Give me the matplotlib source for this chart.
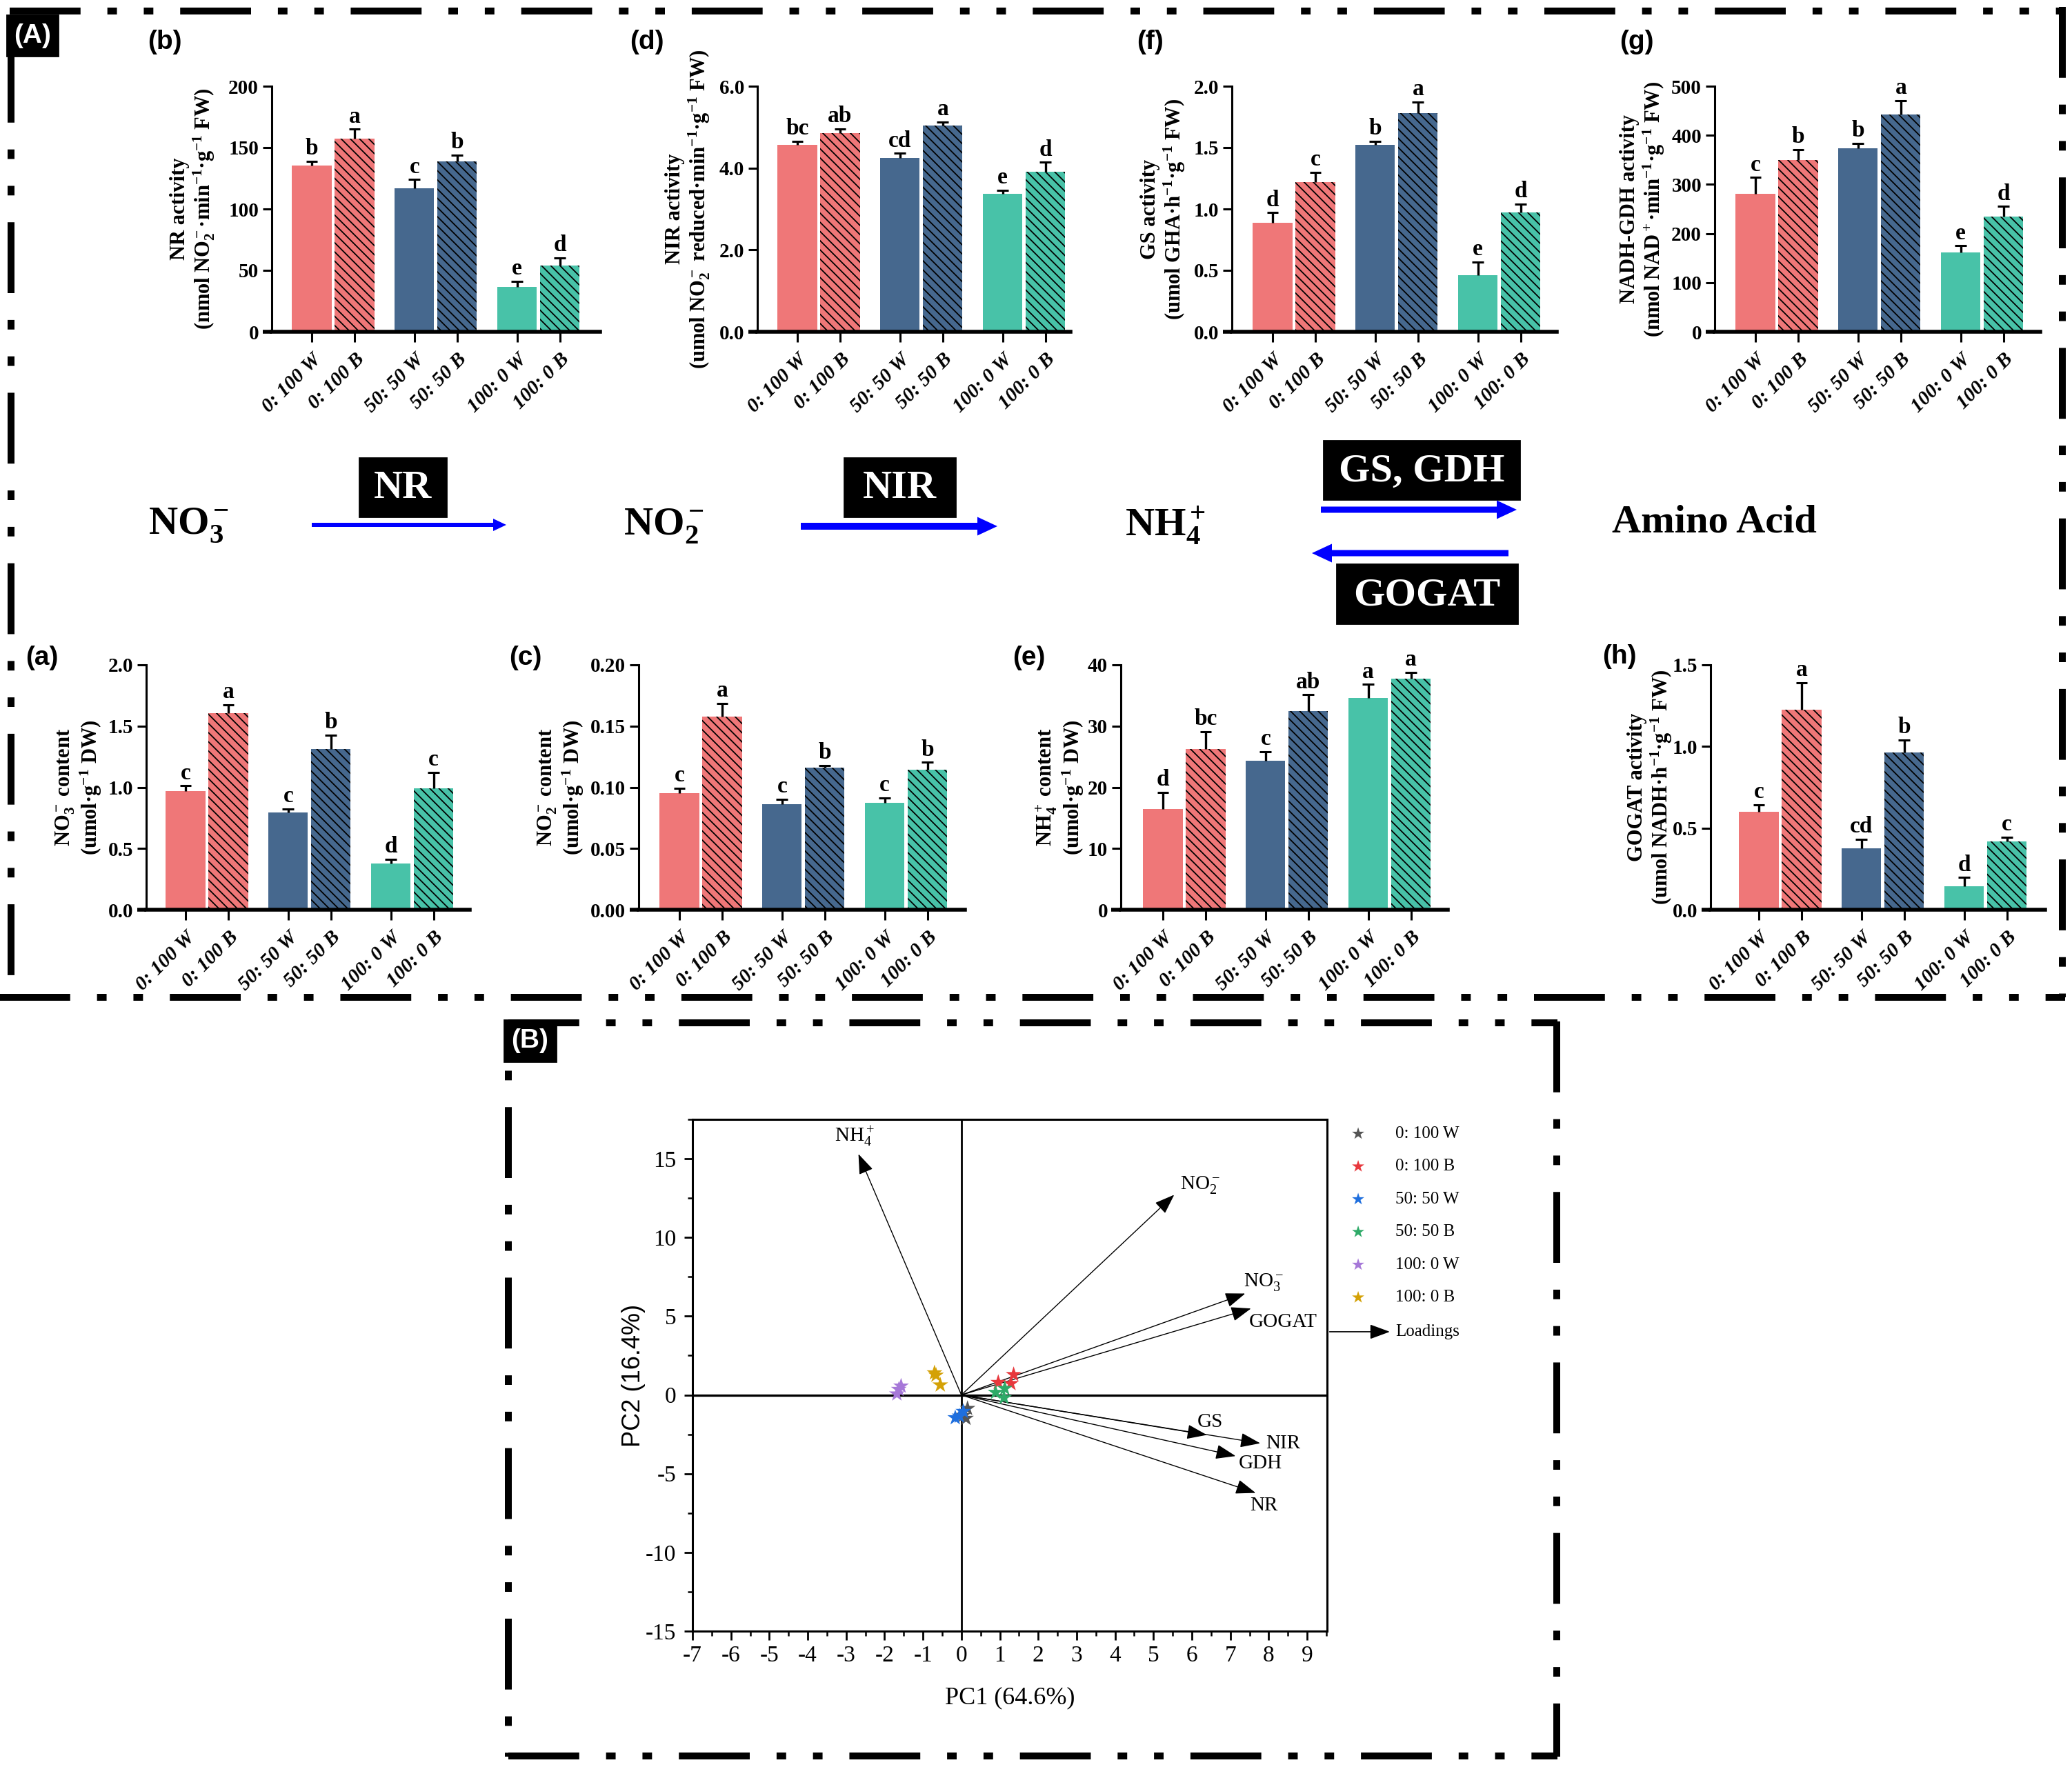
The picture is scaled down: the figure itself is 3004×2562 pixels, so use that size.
import numpy as np
import matplotlib
matplotlib.use('Agg')
import matplotlib.pyplot as plt
from matplotlib.patches import Rectangle, FancyArrow
from matplotlib.lines import Line2D

plt.rcParams['font.family'] = 'Liberation Serif'
plt.rcParams['mathtext.fontset'] = 'stix'
plt.rcParams['mathtext.default'] = 'regular'
plt.rcParams['axes.unicode_minus'] = False
plt.rcParams['lines.scale_dashes'] = False
plt.rcParams['hatch.linewidth'] = 0.65
plt.rcParams['hatch.color'] = 'black'

W, H, DPI = 3004, 2562, 200

# ---------------- data ----------------
groups = ['0: 100 W', '0: 100 B', '50: 50 W', '50: 50 B', '100: 0 W', '100: 0 B']
bar_colors = ['#EF7778', '#EF7778', '#46688E', '#46688E', '#48C2A8', '#48C2A8']
hatched = [False, True, False, True, False, True]

nr_mean = [135.5, 157.4, 117.0, 139.0, 36.5, 54.0]
nr_err = [3.3, 7.5, 7.0, 4.7, 4.7, 6.0]
nr_sig = ['b', 'a', 'c', 'b', 'e', 'd']
nr_ticks = [0, 50, 100, 150, 200]
nr_ticklabels = ['0', '50', '100', '150', '200']

nir_mean = [4.56, 4.86, 4.24, 5.04, 3.37, 3.91]
nir_err = [0.10, 0.10, 0.12, 0.08, 0.09, 0.23]
nir_sig = ['bc', 'ab', 'cd', 'a', 'e', 'd']
nir_ticks = [0, 2, 4, 6]
nir_ticklabels = ['0.0', '2.0', '4.0', '6.0']

gs_mean = [0.89, 1.22, 1.52, 1.78, 0.46, 0.97]
gs_err = [0.08, 0.08, 0.03, 0.09, 0.11, 0.07]
gs_sig = ['d', 'c', 'b', 'a', 'e', 'd']
gs_ticks = [0, 0.5, 1.0, 1.5, 2.0]
gs_ticklabels = ['0.0', '0.5', '1.0', '1.5', '2.0']

gdh_mean = [281, 350, 373, 442, 161, 234]
gdh_err = [33, 21, 11, 29, 14, 21]
gdh_sig = ['c', 'b', 'b', 'a', 'e', 'd']
gdh_ticks = [0, 100, 200, 300, 400, 500]
gdh_ticklabels = ['0', '100', '200', '300', '400', '500']

no3_mean = [0.967, 1.607, 0.797, 1.314, 0.379, 0.991]
no3_err = [0.045, 0.065, 0.026, 0.110, 0.035, 0.130]
no3_sig = ['c', 'a', 'c', 'b', 'd', 'c']
no3_ticks = [0, 0.5, 1.0, 1.5, 2.0]
no3_ticklabels = ['0.0', '0.5', '1.0', '1.5', '2.0']

no2_mean = [0.0953, 0.1576, 0.0862, 0.1158, 0.0874, 0.1144]
no2_err = [0.004, 0.011, 0.004, 0.002, 0.004, 0.006]
no2_sig = ['c', 'a', 'c', 'b', 'c', 'b']
no2_ticks = [0, 0.05, 0.10, 0.15, 0.20]
no2_ticklabels = ['0.00', '0.05', '0.10', '0.15', '0.20']

nh4_mean = [16.5, 26.3, 24.3, 32.5, 34.6, 37.7]
nh4_err = [2.7, 2.8, 1.5, 2.6, 2.2, 1.1]
nh4_sig = ['d', 'bc', 'c', 'ab', 'a', 'a']
nh4_ticks = [0, 10, 20, 30, 40]
nh4_ticklabels = ['0', '10', '20', '30', '40']

gogat_mean = [0.600, 1.224, 0.378, 0.962, 0.144, 0.418]
gogat_err = [0.042, 0.166, 0.053, 0.077, 0.053, 0.027]
gogat_sig = ['c', 'a', 'cd', 'b', 'd', 'c']
gogat_ticks = [0, 0.5, 1.0, 1.5]
gogat_ticklabels = ['0.0', '0.5', '1.0', '1.5']

# PCA
pca_colors = ['#555555', '#E8383D', '#1F6FDE', '#2EAA68', '#A678D8', '#D4A106']
pc1_scores = [[0.16, 0.12, 0.05], [0.96, 1.29, 1.36], [-0.16, -0.05, 0.05],
              [0.89, 1.13, 1.11], [-1.57, -1.63, -1.68], [-0.70, -0.66, -0.55]]
pc2_scores = [[-0.86, -1.49, -1.30], [0.79, 0.72, 1.29], [-1.45, -1.35, -1.05],
              [0.16, 0.41, -0.18], [0.56, 0.35, 0.06], [1.40, 1.25, 0.63]]
load_names = ['NH$_4^+$', 'NO$_2^-$', 'NO$_3^-$', 'GOGAT', 'GS', 'NIR', 'GDH', 'NR']
load_pc1 = [-2.68, 5.54, 7.39, 7.54, 6.39, 7.78, 7.14, 7.66]
load_pc2 = [15.3, 12.71, 6.44, 5.49, -2.54, -3.07, -3.88, -6.22]
# label offsets (points) and alignment
load_off = [(-2, 9, 'center'), (3, 5, 'left'), (-1, 6, 'left'), (-1, -7, 'left'),
            (-5, 6.5, 'left'), (3, 0, 'left'), (1.5, -4, 'left'), (-3, -6.5, 'left')]

fig = plt.figure(figsize=(W / DPI, H / DPI), dpi=DPI)

# overlay for borders and the pathway scheme (pixel coordinates)
over = fig.add_axes([0, 0, 1, 1])
over.set_xlim(0, W)
over.set_ylim(H, 0)
over.axis('off')


def px_rect(L, R, T, B):
    return [L / W, 1 - B / H, (R - L) / W, (B - T) / H]


pattern = (37, 14, 5, 14, 5, 14)


def dashed(x0, y0, x1, y1, offset=0):
    over.add_line(Line2D([x0, x1], [y0, y1], color='black', lw=3.6,
                         linestyle=(offset, pattern), dash_capstyle='butt'))


# box A
dashed(14, 16, 2994, 16)
dashed(15.5, 75, 15.5, 1446)
dashed(2990, 10, 2990, 1446)
dashed(-123, 1446, 2994, 1446)
# box B
dashed(737, 1483, 2258, 1483)
dashed(737, 1483, 737, 2547, offset=45)
dashed(2257, 1481, 2257, 2547)
dashed(737, 2546, 2258, 2546)

over.add_patch(Rectangle((10, 22), 74, 59, color='black'))
over.text(47, 52, '(A)', color='white', fontsize=14, fontweight='bold',
          family='Liberation Sans', ha='center', va='center')
over.add_patch(Rectangle((731, 1479), 75, 60, color='black'))
over.text(768, 1509, '(B)', color='white', fontsize=14, fontweight='bold',
          family='Liberation Sans', ha='center', va='center')

# pathway scheme
for s, x in [('NO$_3^-$', 273), ('NO$_2^-$', 962), ('NH$_4^+$', 1690)]:
    over.text(x, 762, s, fontsize=21, fontweight='bold', ha='center', va='center')
over.text(2485, 758, 'Amino Acid', fontsize=21, fontweight='bold', ha='center', va='center')

for (x0, x1, y0, y1, s) in [(521, 647, 664, 749, 'NR'), (1224, 1385, 664, 749, 'NIR'),
                            (1919, 2203, 639, 724, 'GS, GDH'), (1938, 2200, 818, 904, 'GOGAT')]:
    over.add_patch(Rectangle((x0, y0), x1 - x0, y1 - y0, color='black'))
    over.text((x0 + x1) / 2, (y0 + y1) / 2 + 2, s, color='white', fontsize=21,
              fontweight='bold', ha='center', va='center')

blue = '#0000FF'
for (xt, xh, y, w, hw, hl) in [(452, 734, 761, 6, 18, 19), (1161, 1446, 763, 10, 27, 29),
                               (1915, 2199, 739, 9, 27, 29), (2187, 1902, 802, 9, 27, 29)]:
    over.add_patch(FancyArrow(xt, y, xh - xt, 0, width=w, head_width=hw, head_length=hl,
                              length_includes_head=True, color=blue, lw=0))

# ---------------- bar panels ----------------
xpos = [0, 1, 2.4, 3.4, 4.8, 5.8]
unit = 62.0

panels = [
    ('(b)', nr_mean, nr_err, nr_sig, nr_ticks, nr_ticklabels,
     'NR activity\n(nmol NO$_2^-$·min$^{-1}$·g$^{-1}$ FW)', (394, 870, 125, 481), 452, 314, (239, 61)),
    ('(d)', nir_mean, nir_err, nir_sig, nir_ticks, nir_ticklabels,
     'NIR activity\n(umol NO$_2^-$ reduced·min$^{-1}$·g$^{-1}$ FW)', (1098, 1552, 125, 481), 1156, 1032, (938, 61)),
    ('(f)', gs_mean, gs_err, gs_sig, gs_ticks, gs_ticklabels,
     'GS activity\n(umol GHA·h$^{-1}$·g$^{-1}$ FW)', (1786, 2257, 125, 481), 1845, 1721, (1667, 61)),
    ('(g)', gdh_mean, gdh_err, gdh_sig, gdh_ticks, gdh_ticklabels,
     'NADH-GDH activity\n(nmol NAD$^+$·min$^{-1}$·g$^{-1}$ FW)', (2486, 2958, 125, 481), 2545, 2416, (2373, 61)),
    ('(a)', no3_mean, no3_err, no3_sig, no3_ticks, no3_ticklabels,
     'NO$_3^-$ content\n(umol·g$^{-1}$ DW)', (212, 681, 964, 1319), 269, 150, (61, 954)),
    ('(c)', no2_mean, no2_err, no2_sig, no2_ticks, no2_ticklabels,
     'NO$_2^-$ content\n(umol·g$^{-1}$ DW)', (926, 1399, 964, 1319), 985, 849, (762, 954)),
    ('(e)', nh4_mean, nh4_err, nh4_sig, nh4_ticks, nh4_ticklabels,
     'NH$_4^+$ content\n(umol·g$^{-1}$ DW)', (1625, 2099, 964, 1319), 1686, 1574, (1492, 954)),
    ('(h)', gogat_mean, gogat_err, gogat_sig, gogat_ticks, gogat_ticklabels,
     'GOGAT activity\n(umol NADH·h$^{-1}$·g$^{-1}$ FW)', (2480, 2965, 964, 1319), 2550, 2427, (2348, 952)),
]

for letter, mean, err, sig, ticks, ticklabels, ylabel, (L, R, T, B), c0, labpx, lxy in panels:
    ax = fig.add_axes(px_rect(L, R, T, B))
    for x, m, c, h in zip(xpos, mean, bar_colors, hatched):
        ax.bar(x, m, width=0.92, color=c, linewidth=0, hatch=('\\' * 5 if h else None), zorder=2)
    top = [m + e for m, e in zip(mean, err)]
    ax.vlines(xpos, mean, top, color='black', lw=1.2, zorder=3, clip_on=False)
    ax.hlines(top, [x - 0.135 for x in xpos], [x + 0.135 for x in xpos],
              color='black', lw=1.1, zorder=3, clip_on=False)
    for x, t, s in zip(xpos, top, sig):
        ax.annotate(s, (x, t), xytext=(0, 1.0), textcoords='offset points', ha='center',
                    va='bottom', fontsize=12, fontweight='bold', annotation_clip=False)
    ax.set_xlim((L - c0) / unit, (R - c0) / unit)
    ax.set_ylim(ticks[0], ticks[-1])
    ax.set_yticks(ticks)
    ax.set_yticklabels(ticklabels, fontsize=10.5, fontweight='bold')
    ax.set_xticks(xpos)
    ax.set_xticklabels(groups, rotation=45, ha='right', rotation_mode='anchor',
                       fontsize=10.5, fontweight='bold', fontstyle='italic')
    ax.tick_params(axis='y', direction='out', length=4.8, width=1.1, pad=2)
    ax.tick_params(axis='x', direction='out', length=5.5, width=1.1, pad=4)
    for sp in ['top', 'right']:
        ax.spines[sp].set_visible(False)
    ax.spines['left'].set_linewidth(1.1)
    ax.spines['bottom'].set_linewidth(2.0)
    # x axis line continues under the 0 tick, as in GraphPad
    ax.plot([-13.5 / (R - L), 0], [0, 0], transform=ax.transAxes, color='black', lw=2.0,
            solid_capstyle='butt', clip_on=False)
    ax.patch.set_alpha(0)
    ax.set_ylabel(ylabel, fontsize=11, fontweight='bold', linespacing=1.1)
    ax.yaxis.set_label_coords((labpx - L) / (R - L), 0.5)
    over.text(lxy[0], lxy[1], letter, fontsize=14, fontweight='bold',
              family='Liberation Sans', ha='center', va='center')

# ---------------- PCA panel ----------------
axp = fig.add_axes(px_rect(1004, 1924, 1623, 2365))
axp.set_xlim(-7, 9.52)
axp.set_ylim(-15, 17.5)
axp.axhline(0, color='black', lw=1.2, zorder=1)
axp.axvline(0, color='black', lw=1.0, zorder=1)
for name, x, y, (dx, dy, ha) in zip(load_names, load_pc1, load_pc2, load_off):
    axp.annotate('', xy=(x, y), xytext=(0, 0),
                 arrowprops=dict(arrowstyle='-|>,head_length=0.9,head_width=0.33',
                                 color='black', lw=0.5, shrinkA=0, shrinkB=0,
                                 mutation_scale=10))
    axp.annotate(name, (x, y), xytext=(dx, dy), textcoords='offset points',
                 ha=ha, va='center', fontsize=10.5)
for xs, ys, c in zip(pc1_scores, pc2_scores, pca_colors):
    axp.scatter(xs, ys, marker='*', s=75, color=c, edgecolors='none', zorder=4)
axp.set_xticks(range(-7, 10))
axp.set_xticks(np.arange(-6.5, 9.6, 1), minor=True)
axp.set_yticks(range(-15, 16, 5))
axp.set_yticks(np.arange(-12.5, 17.6, 5), minor=True)
axp.tick_params(which='major', direction='out', length=4.5, width=1.0, labelsize=12, pad=3)
axp.tick_params(which='minor', direction='out', length=2.5, width=0.9)
axp.tick_params(axis='y', pad=4)
for sp in axp.spines.values():
    sp.set_linewidth(1.1)
axp.set_xlabel('PC1 (64.6%)', fontsize=13)
axp.xaxis.set_label_coords(0.5, -0.108)
axp.xaxis.label.set_va('top')
axp.set_ylabel('PC2 (16.4%)', fontsize=13, family='Liberation Sans')
axp.yaxis.set_label_coords(-0.074, 0.5)

# legend
for i, (g, c) in enumerate(zip(groups, pca_colors)):
    yl = 0.972 - i * 0.064
    axp.scatter([1.049], [yl], marker='*', s=45, color=c, edgecolors='none',
                transform=axp.transAxes, clip_on=False)
    axp.text(1.108, yl, g, fontsize=9, ha='left', va='center', transform=axp.transAxes)
axp.annotate('', xy=(1.099, 0.585), xytext=(1.004, 0.585), xycoords='axes fraction',
             arrowprops=dict(arrowstyle='-|>,head_length=0.9,head_width=0.33', color='black',
                             lw=0.6, shrinkA=0, shrinkB=0, mutation_scale=10))
axp.text(1.108, 0.585, 'Loadings', fontsize=9, ha='left', va='center', transform=axp.transAxes)

fig.savefig('out.png', dpi=DPI)
